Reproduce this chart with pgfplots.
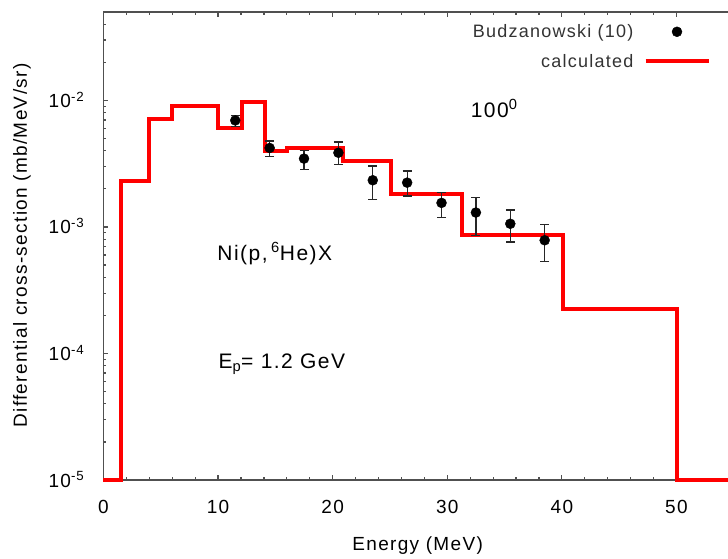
\documentclass[border=0pt]{standalone}
\usepackage{fontspec}
\setmainfont{Liberation Sans}[LetterSpace=7]
\usepackage{pgfplots}
\pgfplotsset{compat=1.18}
\definecolor{axgray}{HTML}{505050}
\definecolor{leggray}{HTML}{333333}
\definecolor{calcred}{HTML}{FF0000}

\begin{document}
\begin{tikzpicture}
\begin{axis}[
  scale only axis, width=624.5pt, height=468pt,
  xmin=0, xmax=54.5, ymin=1e-5, ymax=0.05, ymode=log, log basis y=10,
  axis x line*=box, axis y line*=left,
  axis line style={axgray, line width=1.6pt},
  xtick={0,10,...,50}, minor x tick num=4,
  ytick={1e-5,1e-4,1e-3,1e-2},
  minor ytick={2e-5,3e-5,4e-5,5e-5,6e-5,7e-5,8e-5,9e-5,
               2e-4,3e-4,4e-4,5e-4,6e-4,7e-4,8e-4,9e-4,
               2e-3,3e-3,4e-3,5e-3,6e-3,7e-3,8e-3,9e-3,
               2e-2,3e-2,4e-2},
  yticklabels={10\textsuperscript{-5},10\textsuperscript{-4},10\textsuperscript{-3},10\textsuperscript{-2}},
  tick align=inside, major tick length=5pt, minor tick length=3pt,
  tick style={axgray, line width=1.2pt},
  /pgf/number format/assume math mode=true,
  ticklabel style={font=\fontsize{19}{21}\selectfont, inner sep=0pt},
  xticklabel style={anchor=base, yshift=-33pt},
  yticklabel style={anchor=base east, xshift=-19pt, yshift=-7pt},
  xlabel={Energy (MeV)},
  ylabel={Differential cross-section (mb/MeV/sr)},
  label style={font=\fontsize{19}{22}\selectfont},
  xlabel style={at={(axis description cs:0.503,0)}, anchor=base, yshift=-70pt},
  ylabel style={at={(axis description cs:-0.1305,0.501)}, anchor=center},
  clip=false,
  reverse legend,
  legend plot pos=right, legend cell align=right,
  legend style={draw=none, fill=none, at={(rel axis cs:0.9723,0.978)}, anchor=north east,
    font=\fontsize{18}{20}\selectfont\color{leggray}, row sep=11pt, column sep=8pt, inner sep=0pt},
  legend image code/.code={\draw[mark repeat=2,mark phase=2,#1] plot coordinates {(0pt,0pt) (31.5pt,0pt) (63pt,0pt)};},
]
\addplot[const plot, calcred, line width=4pt, mark=none] coordinates {
  (0,1e-5) (1.5,2.32e-3) (4,7.17e-3) (6,9.05e-3) (10,6.01e-3) (12.1,9.79e-3)
  (14.1,3.98e-3) (16,4.21e-3) (20.9,3.32e-3) (25.1,1.81e-3) (31.3,8.59e-4)
  (40.1,2.24e-4) (50.05,1e-5) (54.5,1e-5)
};
\addlegendentry{calculated}
\addplot[only marks, mark=*, mark size=5pt, black,
  error bars/.cd, y dir=both, y explicit,
  error bar style={line width=1.2pt, black!85},
  error mark options={rotate=90, mark size=4.5pt, line width=1.2pt, black!85}]
  table[x=x, y=y, y error plus=ep, y error minus=em] {
  x     y        ep       em
  11.5  6.95e-3  0.65e-3  0.71e-3
  14.5  4.21e-3  0.57e-3  0.60e-3
  17.5  3.47e-3  0.56e-3  0.62e-3
  20.5  3.86e-3  0.83e-3  0.76e-3
  23.5  2.34e-3  0.69e-3  0.70e-3
  26.5  2.24e-3  0.53e-3  0.48e-3
  29.5  1.55e-3  0.32e-3  0.36e-3
  32.5  1.30e-3  0.42e-3  0.45e-3
  35.5  1.06e-3  0.30e-3  0.30e-3
  38.5  0.785e-3 0.255e-3 0.255e-3
};
\addlegendentry{Budzanowski (10)}
\node[anchor=base west, inner sep=0pt, font=\fontsize{21}{25}\selectfont] at (axis cs:32.04,7.38e-3) {100\textsuperscript{0}};
\node[anchor=base west, inner sep=0pt, font=\fontsize{21}{25}\selectfont] at (axis cs:9.93,5.46e-4) {Ni(p,\,\textsuperscript{6}He)X};
\node[anchor=base west, inner sep=0pt, font=\fontsize{21}{25}\selectfont] at (axis cs:10.02,7.62e-5) {E\textsubscript{p}= 1.2 GeV};
\end{axis}
\pgfresetboundingbox
\path[use as bounding box] (-103.5pt,-79pt) rectangle (624.5pt,480pt);
\end{tikzpicture}
\end{document}
